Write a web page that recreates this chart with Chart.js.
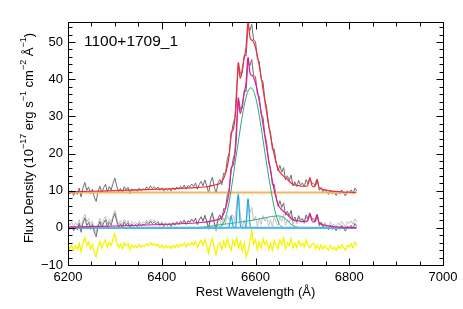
<!DOCTYPE html>
<html>
<head>
<meta charset="utf-8">
<script src="https://cdn.jsdelivr.net/npm/chart.js@4.4.1/dist/chart.umd.min.js"></script>
<style>
body { margin: 0; background: #fff; }
#wrap { width: 463px; height: 309px; }
</style>
</head>
<body>
<div id="wrap"><canvas id="specChart" width="463" height="309"></canvas></div>
<script>
var objName = "1100+1709_1";
var specOffset = 9.5;
var waveStart = 6200;
var waveStep = 4;

// observed spectrum (lower copy), 4 A bins from 6200
var specFlux = [
    0.6, -0.4, 0.5, -0.8, 0.4, -0.5, 1.2, -1.2, 1.3, 2.7,
    0.6, 1.5, -0.4, 0.9, -1.2, -2.4, 0.2, 1.7, 0.0, 1.3,
    2.2, 0.2, 1.6, 0.7, 2.5, 3.9, 1.7, 0.2, 1.1, 0.0,
    1.6, 0.7, 1.4, -0.3, 1.0, 0.4, 0.9, 0.3, 1.2, 0.5,
    1.0, 0.8, 1.5, 1.0, 1.8, 1.1, 1.6, 1.0, 1.5, 0.6,
    1.3, 0.4, 1.1, 0.6, 1.1, 0.4, 1.3, 0.7, 1.5, 0.9,
    1.7, 1.2, 2.0, 0.9, 1.9, 1.5, 2.3, 1.6, 2.6, 0.9,
    2.2, 3.0, 1.8, 3.4, 1.8, -0.1, 2.7, 4.1, 1.5, -0.2,
    2.6, 3.5, 2.1, 5.2, 5.1, 9.2, 10.6, 15.0, 18.4, 20.2,
    28.7, 34.3, 31.9, 32.2, 37.0, 36.7, 44.9, 43.6, 45.3, 41.0,
    40.7, 35.9, 35.3, 30.6, 29.8, 25.0, 22.8, 17.6, 16.2, 11.6,
    11.7, 8.3, 5.8, 7.3, 5.5, 6.7, 3.4, 4.5, 3.2, 4.7,
    1.8, 2.9, 1.6, 3.3, 2.0, 2.6, 1.5, 3.5, 2.4, 3.6,
    2.6, 2.4, 1.7, 3.6, 0.6, 1.4, 0.2, 0.9, 0.1, -0.5,
    0.7, -0.4, 0.1, -0.8, 0.3, -0.4, 0.7, -0.2, -0.9, 0.5,
    -0.1, 0.7, -0.3, 1.2, 0.4
];

// spectrum with broad components removed (light grey)
var narrowSpec = [
    1.7, 0.7, 1.6, 0.3, 1.5, 0.5, 2.2, -0.2, 2.3, 3.7,
    1.6, 2.5, 0.6, 1.8, -0.3, -1.5, 1.1, 2.6, 0.9, 2.2,
    3.1, 1.0, 2.4, 1.5, 3.3, 4.7, 2.5, 1.0, 1.9, 0.7,
    2.3, 1.4, 2.1, 0.4, 1.7, 1.0, 1.5, 0.9, 1.8, 1.1,
    1.6, 1.3, 2.0, 1.5, 2.3, 1.6, 2.1, 1.4, 1.9, 1.0,
    1.7, 0.8, 1.5, 0.9, 1.4, 0.7, 1.6, 1.0, 1.8, 1.1,
    1.9, 1.4, 2.2, 1.1, 2.0, 1.6, 2.4, 1.7, 2.6, 0.9,
    2.1, 2.9, 1.6, 3.2, 1.5, -0.5, 2.2, 3.5, 0.8, -1.0,
    1.7, 2.3, 0.5, 2.7, 1.1, 3.3, 2.2, 3.4, 3.4, 1.7,
    6.8, 8.9, 3.1, 0.1, 2.1, -0.3, 7.4, 4.0, 5.5, 1.9,
    3.1, 0.4, 2.5, 0.9, 3.3, 1.8, 2.7, 0.5, 2.2, 0.3,
    2.9, 1.5, 0.6, 3.0, 1.7, 3.6, 0.7, 2.3, 1.5, 3.4,
    0.9, 2.2, 1.0, 2.8, 1.5, 2.2, 1.1, 3.1, 2.0, 3.2,
    2.3, 2.1, 1.5, 3.5, 0.7, 1.7, 0.6, 1.5, 0.8, 0.3,
    1.6, 0.5, 1.1, 0.2, 1.4, 0.7, 1.8, 1.0, 0.3, 1.7,
    1.1, 1.9, 0.9, 2.4, 1.6
];

// residual (shifted down, yellow)
var residFlux = [
    -4.6, -5.6, -4.7, -6.0, -4.8, -5.8, -4.1, -6.5, -4.0, -2.6,
    -4.7, -3.8, -5.7, -4.5, -6.6, -7.8, -5.2, -3.7, -5.4, -4.1,
    -3.2, -5.3, -3.9, -4.8, -3.0, -1.6, -3.8, -5.3, -4.4, -5.6,
    -4.0, -4.9, -4.2, -5.9, -4.6, -5.3, -4.8, -5.4, -4.5, -5.2,
    -4.7, -5.0, -4.3, -4.8, -4.0, -4.7, -4.2, -4.9, -4.4, -5.3,
    -4.6, -5.5, -4.8, -5.4, -4.9, -5.6, -4.7, -5.3, -4.5, -5.2,
    -4.4, -4.9, -4.1, -5.2, -4.3, -4.7, -3.9, -4.6, -3.7, -5.4,
    -4.2, -3.4, -4.7, -3.1, -4.8, -6.8, -4.1, -2.8, -5.5, -7.3,
    -4.6, -4.0, -5.8, -3.6, -5.2, -3.0, -4.6, -6.1, -3.4, -4.7,
    -2.8, -5.5, -3.7, -6.2, -4.2, -7.8, -6.3, -3.5, -0.8, -4.4,
    -3.2, -5.9, -3.8, -5.4, -3.0, -4.5, -3.6, -5.8, -4.1, -6.0,
    -3.4, -4.8, -5.7, -3.3, -4.6, -2.7, -5.6, -4.0, -4.8, -2.9,
    -5.4, -4.1, -5.3, -3.5, -4.8, -4.1, -5.2, -3.2, -4.7, -5.4,
    -4.4, -4.2, -5.6, -4.7, -5.8, -4.6, -5.7, -4.8, -5.5, -6.0,
    -4.7, -5.8, -5.2, -6.1, -4.9, -5.6, -4.5, -5.3, -6.0, -4.6,
    -5.2, -4.4, -5.4, -3.9, -4.7
];

// model curves
var fitWave = [
    6200, 6250, 6300, 6350, 6400, 6440, 6470, 6490, 6505, 6515,
    6520, 6525, 6530, 6534, 6538, 6542, 6544, 6546, 6548, 6550,
    6552, 6554, 6557, 6559, 6561, 6562, 6563, 6564, 6565, 6567,
    6569, 6572, 6575, 6578, 6580, 6582, 6583, 6584, 6585, 6586,
    6588, 6590, 6594, 6598, 6602, 6606, 6610, 6614, 6618, 6622,
    6626, 6630, 6634, 6638, 6642, 6646, 6650, 6655, 6660, 6666,
    6672, 6680, 6690, 6700, 6708, 6712, 6714, 6716, 6718, 6720,
    6724, 6727, 6729, 6731, 6733, 6735, 6740, 6748, 6758, 6770,
    6785, 6800, 6815
];
var totalFit = [
    0.2, 0.35, 0.5, 0.7, 0.9, 1.1, 1.3, 1.5, 1.8, 2.1,
    2.2, 2.6, 3.3, 4.4, 6.1, 8.4, 10.2, 13.3, 16.1, 16.5,
    16.8, 17.9, 20.9, 23.9, 30.0, 33.1, 35.0, 34.8, 33.4, 30.8,
    31.2, 33.4, 35.6, 37.6, 39.3, 43.2, 45.0, 45.9, 45.5, 44.0,
    41.9, 41.2, 40.9, 39.8, 38.0, 35.6, 32.7, 29.5, 26.2, 23.0,
    19.9, 16.8, 14.0, 11.3, 9.0, 7.2, 5.9, 5.0, 4.4, 3.8,
    3.0, 2.2, 1.9, 1.7, 1.7, 2.1, 3.2, 4.0, 3.2, 2.0,
    1.55, 1.85, 2.8, 3.5, 2.7, 1.6, 1.0, 0.7, 0.45, 0.3,
    0.15, 0.08, 0.05
];
var broadFit = [
    0, 0, 0, 0, 0, 0, 0, 0, 0, 0.02,
    0.08, 0.3, 0.9, 2.0, 3.6, 5.8, 7.1, 8.6, 10.2, 11.8,
    13.5, 15.1, 17.9, 19.5, 21.2, 22.0, 22.9, 23.7, 24.6, 26.2,
    27.9, 30.2, 32.4, 34.2, 35.2, 36.1, 36.5, 36.8, 37.1, 37.3,
    37.6, 37.7, 37.3, 36.1, 34.2, 31.7, 28.7, 25.4, 22.0, 18.7,
    15.5, 12.3, 9.4, 6.7, 4.3, 2.5, 1.2, 0.4, 0.1, 0.02,
    0, 0, 0, 0, 0, 0, 0, 0, 0, 0,
    0, 0, 0, 0, 0, 0, 0, 0, 0, 0,
    0, 0, 0
];
var wingFit = [
    0, 0, 0, 0, 0, 0, 0.05, 0.2, 0.45, 0.65,
    0.75, 0.85, 0.95, 1.0, 1.05, 1.1, 1.15, 1.2, 1.2, 1.25,
    1.3, 1.3, 1.35, 1.4, 1.45, 1.45, 1.5, 1.5, 1.5, 1.55,
    1.6, 1.65, 1.7, 1.75, 1.8, 1.85, 1.85, 1.85, 1.9, 1.9,
    1.95, 2.0, 2.05, 2.15, 2.25, 2.35, 2.45, 2.55, 2.65, 2.75,
    2.85, 2.95, 3.05, 3.1, 3.15, 3.2, 3.2, 3.1, 2.8, 2.2,
    1.4, 0.6, 0.15, 0.02, 0, 0, 0, 0, 0, 0,
    0, 0, 0, 0, 0, 0, 0, 0, 0, 0,
    0, 0, 0
];

// narrow Halpha + [NII]
var narrowWave = [6200, 6538, 6542, 6544, 6546, 6547, 6548, 6549, 6550, 6552, 6554,
    6557, 6559, 6561, 6562, 6563, 6564, 6565, 6567, 6569, 6572,
    6576, 6578, 6580, 6582, 6583, 6584, 6585, 6586, 6588, 6590, 6594, 6815];
var narrowFit = [0, 0, 0.05, 0.52, 2.0, 2.85, 3.2, 2.85, 2.0, 0.52, 0.05,
    0.15, 1.5, 5.8, 8.1, 9.1, 8.1, 5.8, 1.5, 0.15, 0,
    0, 0.13, 1.3, 5.0, 7.05, 7.9, 7.05, 5.0, 1.3, 0.13, 0, 0];

var contWave = [6200, 6815];
var contLevel = [0, 0];

var xMin = 6200, xMax = 7000;
var yMin = -10, yMax = 55.4;

var specWave = specFlux.map(function (f, i) { return waveStart + i * waveStep; });

function toPoints(xs, ys, shift) {
    return xs.map(function (x, i) { return { x: x, y: ys[i] + shift }; });
}

function lineSet(points, color, width, smooth) {
    return {
        data: points,
        borderColor: color,
        borderWidth: width,
        pointRadius: 0,
        fill: false,
        tension: 0,
        cubicInterpolationMode: smooth ? 'monotone' : 'default'
    };
}

var FONT = '"Liberation Sans", Arial, Helvetica, sans-serif';

var idlFrame = {
    id: 'idlFrame',
    afterDraw: function (chart) {
        var ctx = chart.ctx;
        var a = chart.chartArea;
        var xs = chart.scales.x, ys = chart.scales.y;
        var L = Math.round(a.left) + 0.5, R = Math.round(a.right) + 0.5;
        var T = Math.round(a.top) + 0.5, B = Math.round(a.bottom) + 0.5;
        ctx.save();
        ctx.strokeStyle = '#000';
        ctx.lineWidth = 1;
        ctx.beginPath();
        ctx.rect(L, T, R - L, B - T);
        for (var v = xMin; v <= xMax; v += 50) {
            var len = (v % 200 === 0) ? 7 : 4;
            var px = Math.round(xs.getPixelForValue(v)) + 0.5;
            ctx.moveTo(px, B); ctx.lineTo(px, B - len);
            ctx.moveTo(px, T); ctx.lineTo(px, T + len);
        }
        for (var w = yMin; w <= yMax; w += 2) {
            var ln = (w % 10 === 0) ? 7 : 4;
            var py = Math.round(ys.getPixelForValue(w)) + 0.5;
            ctx.moveTo(L, py); ctx.lineTo(L + ln, py);
            ctx.moveTo(R, py); ctx.lineTo(R - ln, py);
        }
        ctx.stroke();

        ctx.fillStyle = '#000';
        ctx.textBaseline = 'middle';
        ctx.textAlign = 'center';
        ctx.font = '13px ' + FONT;
        ctx.fillText('Rest Wavelength (\u00c5)', (a.left + a.right) / 2, 292);

        ctx.textAlign = 'left';
        ctx.font = '15.5px ' + FONT;
        ctx.fillText(objName, 84, 42);

        // y title with superscripts
        var parts = [
            ['Flux Density (10', false], ['\u221217', true], [' erg s', false], ['\u22121', true],
            [' cm', false], ['\u22122', true], [' \u00c5', false], ['\u22121', true], [')', false]
        ];
        ctx.translate(29, 138);
        ctx.rotate(-Math.PI / 2);
        var total = 0;
        parts.forEach(function (p) {
            ctx.font = (p[1] ? '9px ' : '13px ') + FONT;
            total += ctx.measureText(p[0]).width;
        });
        var cx = -total / 2;
        parts.forEach(function (p) {
            ctx.font = (p[1] ? '9px ' : '13px ') + FONT;
            ctx.fillText(p[0], cx, p[1] ? -5 : 0);
            cx += ctx.measureText(p[0]).width;
        });
        ctx.restore();
    }
};

var datasets = [
    lineSet(toPoints(fitWave, totalFit, specOffset), '#ee2e3e', 1.2, true),
    lineSet(toPoints(fitWave, totalFit, 0), '#e2199b', 1.2, true),
    lineSet(toPoints(contWave, contLevel, 0), '#56b5e6', 2, false),
    lineSet(toPoints(narrowWave, narrowFit, 0), '#25ade6', 1.2, true),
    lineSet(toPoints(fitWave, wingFit, 0), '#22ad74', 1, true),
    lineSet(toPoints(fitWave, broadFit, 0), '#22ad74', 1, true),
    lineSet(toPoints(contWave, contLevel, specOffset), '#f7b35f', 2, false),
    lineSet(toPoints(specWave, specFlux, specOffset), '#6e6e6e', 1, false),
    lineSet(toPoints(specWave, specFlux, 0), '#6e6e6e', 1, false),
    lineSet(toPoints(specWave, narrowSpec, 0), '#c2c2c2', 1, false),
    lineSet(toPoints(specWave, residFlux, 0), '#f5f500', 1.3, false)
];

new Chart(document.getElementById('specChart'), {
    type: 'line',
    data: { datasets: datasets },
    plugins: [idlFrame],
    options: {
        responsive: false,
        animation: false,
        devicePixelRatio: 1,
        layout: { padding: { top: 22, right: 20, left: 0, bottom: 0 } },
        plugins: { legend: { display: false }, tooltip: { enabled: false } },
        scales: {
            x: {
                type: 'linear',
                min: xMin,
                max: xMax,
                grid: { display: false, drawTicks: false },
                border: { display: false },
                ticks: {
                    stepSize: 200,
                    autoSkip: false,
                    maxRotation: 0,
                    padding: 5,
                    color: '#000',
                    font: { size: 13, family: FONT },
                    callback: function (v) { return String(v); }
                },
                afterFit: function (s) { s.height = 44; }
            },
            y: {
                type: 'linear',
                min: yMin,
                max: yMax,
                grid: { display: false, drawTicks: false },
                border: { display: false },
                afterBuildTicks: function (s) {
                    s.ticks = s.ticks.filter(function (t) { return t.value % 10 === 0; });
                },
                ticks: {
                    stepSize: 10,
                    padding: 5,
                    color: '#000',
                    font: { size: 13, family: FONT },
                    callback: function (v) { return v < 0 ? '\u2212' + Math.abs(v) : String(v); }
                },
                afterFit: function (s) { s.width = 68; }
            }
        }
    }
});
</script>
</body>
</html>
